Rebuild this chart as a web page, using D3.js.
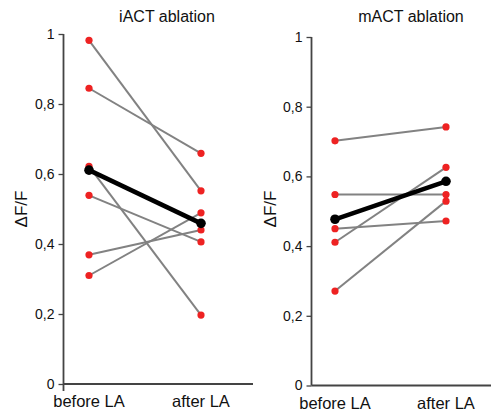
<!DOCTYPE html>
<html>
<head>
<meta charset="utf-8">
<script src="https://cdn.jsdelivr.net/npm/d3@7"></script>
<style>
  body { margin: 0; background: #fff; }
  text { font-family: Arial, "Liberation Sans", sans-serif; fill: #111; }
</style>
</head>
<body>
<div id="chart"></div>
<script>
// data
let categories = ['before LA', 'after LA'];
let yTicks = [0, 0.2, 0.4, 0.6, 0.8, 1];

let iactBefore = [0.982, 0.845, 0.622, 0.539, 0.369, 0.31];
let iactAfter = [0.552, 0.659, 0.197, 0.406, 0.44, 0.489];
let iactMean = [0.611, 0.459];

let mactBefore = [0.702, 0.548, 0.45, 0.411, 0.271];
let mactAfter = [0.742, 0.548, 0.472, 0.626, 0.529];
let mactMean = [0.477, 0.586];

let width = 491;
let height = 413;

let svg = d3.select('#chart')
	.append('svg')
	.attr('width', width)
	.attr('height', height);

let panels = [
	{title: 'iACT ablation', before: iactBefore, after: iactAfter, mean: iactMean,
	 axisX: 63.5, top: 34, bottom: 384, xEnd: 253, xRange: [89, 201], titleX: 167, labelX: 27, stub: 7},
	{title: 'mACT ablation', before: mactBefore, after: mactAfter, mean: mactMean,
	 axisX: 311.5, top: 37, bottom: 385.5, xEnd: 491, xRange: [335, 446], titleX: 411, labelX: 276, stub: 0}
];

panels.forEach(function(p){
	let g = svg.append('g');

	let y = d3.scaleLinear().domain([0, 1]).range([p.bottom, p.top]);
	let x = d3.scalePoint().domain(categories).range(p.xRange);

	// y axis
	let yAxis = g.append('g')
		.attr('transform', 'translate(' + p.axisX + ',0)')
		.call(d3.axisLeft(y)
			.tickValues(yTicks)
			.tickSize(5)
			.tickPadding(4)
			.tickFormat(function(d){ return d3.format('.1~f')(d).replace('.', ','); }));
	yAxis.select('.domain').remove();
	yAxis.selectAll('.tick line').attr('stroke', '#444').attr('stroke-width', 1.3);
	yAxis.selectAll('.tick text')
		.attr('font-size', 14)
		.attr('font-family', 'Arial, "Liberation Sans", sans-serif')
		.attr('fill', '#111');

	g.append('line')
		.attr('x1', p.axisX).attr('x2', p.axisX)
		.attr('y1', p.top).attr('y2', p.bottom + p.stub)
		.attr('stroke', '#444')
		.attr('stroke-width', 1.8);

	// x axis
	g.append('line')
		.attr('x1', p.axisX).attr('x2', p.xEnd)
		.attr('y1', p.bottom).attr('y2', p.bottom)
		.attr('stroke', '#444')
		.attr('stroke-width', 1.8);

	g.selectAll('.cat')
		.data(categories)
		.enter()
		.append('text')
		.attr('x', function(d){ return x(d); })
		.attr('y', p.bottom + 23)
		.attr('text-anchor', 'middle')
		.attr('font-size', 16.5)
		.text(function(d){ return d; });

	// title
	g.append('text')
		.text(p.title)
		.attr('x', p.titleX)
		.attr('y', 22)
		.attr('text-anchor', 'middle')
		.attr('font-size', 16);

	// y label
	g.append('text')
		.text('\u0394F/F')
		.attr('transform', 'translate(' + p.labelX + ',209) rotate(-90)')
		.attr('text-anchor', 'middle')
		.attr('font-size', 17);

	// individual pairs
	let pairs = p.before.map(function(v, i){ return [v, p.after[i]]; });
	g.selectAll('.pair')
		.data(pairs)
		.enter()
		.append('line')
		.attr('x1', x(categories[0]))
		.attr('x2', x(categories[1]))
		.attr('y1', function(d){ return y(d[0]); })
		.attr('y2', function(d){ return y(d[1]); })
		.attr('stroke', '#828282')
		.attr('stroke-width', 2);

	// mean line
	g.append('line')
		.attr('x1', x(categories[0]))
		.attr('x2', x(categories[1]))
		.attr('y1', y(p.mean[0]))
		.attr('y2', y(p.mean[1]))
		.attr('stroke', '#000')
		.attr('stroke-width', 4.5);

	let dots = [];
	p.before.forEach(function(v){ dots.push({c: categories[0], v: v}); });
	p.after.forEach(function(v){ dots.push({c: categories[1], v: v}); });
	g.selectAll('.dot')
		.data(dots)
		.enter()
		.append('circle')
		.attr('cx', function(d){ return x(d.c); })
		.attr('cy', function(d){ return y(d.v); })
		.attr('r', 3.6)
		.attr('fill', '#ee2222');

	g.selectAll('.mdot')
		.data(p.mean)
		.enter()
		.append('circle')
		.attr('cx', function(d, i){ return x(categories[i]); })
		.attr('cy', function(d){ return y(d); })
		.attr('r', 4.8)
		.attr('fill', '#000');
});
</script>
</body>
</html>
